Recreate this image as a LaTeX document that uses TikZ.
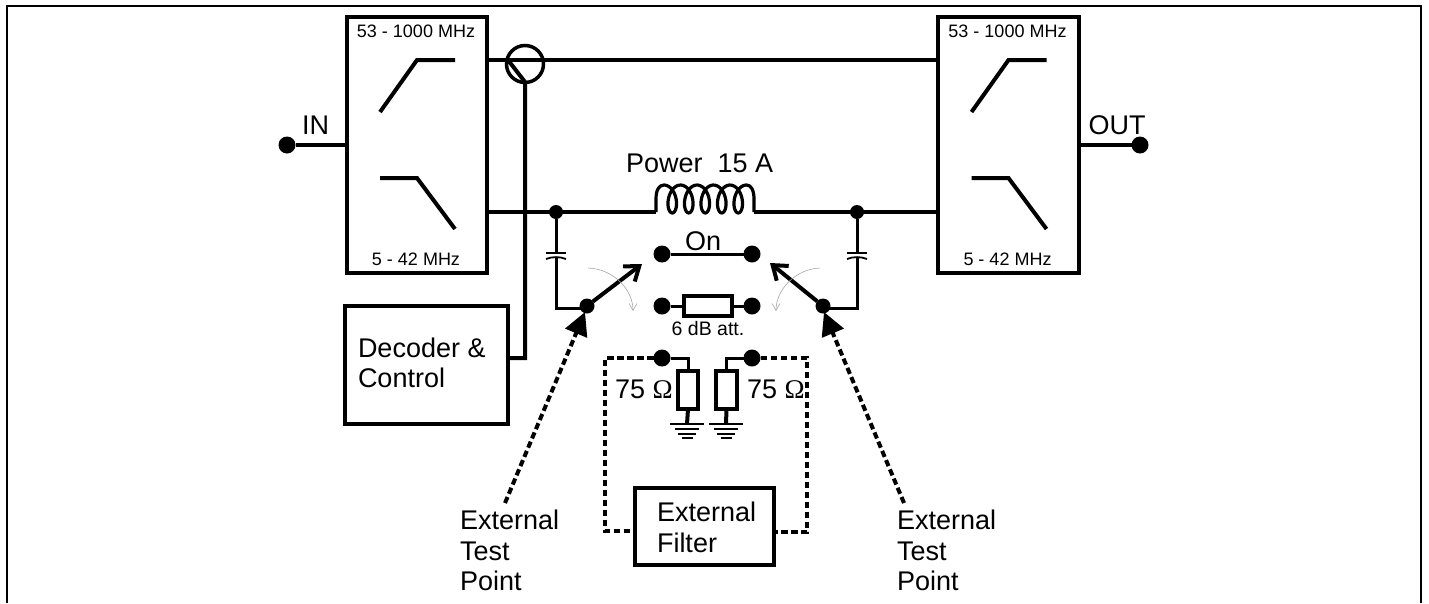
\documentclass[tikz,border=0pt]{standalone}
\usepackage{fontspec}
\setmainfont{Liberation Sans}
\newfontfamily\serifom{Liberation Serif}
\usetikzlibrary{arrows.meta}
\newcommand{\bigfont}{\fontsize{27}{30.5}\selectfont}
\newcommand{\smallfont}{\fontsize{18}{21}\selectfont}
\tikzset{
  wire/.style={line width=4pt},
  thinwire/.style={line width=3pt},
  dashwire/.style={line width=4pt,dash pattern=on 6.5pt off 3.5pt},
  blockbox/.style={draw,line width=4pt,fill=white,inner sep=0pt,outer sep=0pt},
  dot/.style={circle,fill=black,inner sep=0pt,outer sep=0pt,minimum size=17pt},
  smalldot/.style={circle,fill=black,inner sep=0pt,outer sep=0pt,minimum size=14pt},
  resbox/.style={draw,line width=3.5pt,fill=white,inner sep=0pt,outer sep=0pt},
  biglabel/.style={font=\bigfont,inner sep=0pt,outer sep=0pt,anchor=base west},
  smalllabel/.style={font=\smallfont,inner sep=0pt,outer sep=0pt,anchor=base},
  gnd/.style={line width=1.8pt},
  swarrow/.style={wire,-{Straight Barb[length=13pt,width=19pt,line width=4pt]}},
  testarrow/.style={dashwire,-{Triangle[length=23pt,width=23pt]}},
  movearrow/.style={line width=.6pt,draw=gray!70,-{Straight Barb[length=7pt,width=8pt,line width=.6pt]}},
}
\begin{document}
\begin{tikzpicture}[x=1pt,y=-1pt]
\useasboundingbox (0,0) rectangle (1429,603);
% frame
\coordinate (fbl) at (7,603);
\coordinate (ftl) at (7,6);
\coordinate (ftr) at (1421,6);
\coordinate (fbr) at (1421,603);
\draw[line width=2.2pt] (fbl) -- (ftl) -- (ftr) -- (fbr);
% filter blocks
\node[blockbox,minimum width=140pt,minimum height=256pt] (lbox) at (417,145) {};
\node[blockbox,minimum width=141pt,minimum height=256pt] (rbox) at (1008.5,145) {};
\foreach \b/\c in {l/416,r/1007.5}{
  \node[smalllabel] (\b hi) at (\c,37) {53 - 1000 MHz};
  \node[smalllabel] (\b lo) at (\c,265) {5 - 42 MHz};
}
\foreach \c in {417,1008.5}{
  \draw[wire] (\c-37,112) -- (\c,60) -- (\c+38,60);
  \draw[wire] (\c-37,178) -- (\c,178) -- (\c+38,229);
}
% IN / OUT
\node[dot] (in) at (287,145) {};
\node[dot] (out) at (1140,145) {};
\draw[wire] (in) -- (in -| lbox.west);
\draw[wire] (rbox.east |- out) -- (out);
\node[biglabel] (inl) at (302,134) {IN};
\node[biglabel] (outl) at (1088.5,134) {OUT};
% upper path
\coordinate (uleft) at (487,60);
\coordinate (uright) at (938,60);
\draw[wire] (uleft) -- (uright);
% decoder
\node[blockbox,minimum width=163pt,minimum height=118pt] (dec) at (426.5,365) {};
\node[biglabel] (dect) at (358,357) {Decoder \&};
\node[biglabel] (dect2) at (358,387) {Control};
\coordinate (cup) at (525,82);
\coordinate (cdiag) at (508,60);
\coordinate (cbend) at (525,358);
\draw[wire] (dec.east |- cbend) -- (cbend) -- (cup) -- (cdiag);
\node[draw,circle,line width=3.5pt,minimum size=37pt,inner sep=0pt,outer sep=0pt] (coupler) at (525,64) {};
% lower path and coil
\coordinate (lowl) at (487,212);
\coordinate (lowr) at (938,212);
\coordinate (coill) at (656,212);
\coordinate (coilr) at (754,212);
\node[smalldot] (jl) at (556,212) {};
\node[smalldot] (jr) at (857,212) {};
\draw[wire] (lowl) -- (coill);
\draw[wire] (coilr) -- (lowr);
\draw[line width=3.2pt,line join=round] (coill) -- (656,199) .. controls (656,190) and (659,185) .. (664,185)
  -- plot[smooth,samples=140,domain=0:1800] ({664+\x/360*16.5+8*sin(\x)},{199-14*cos(\x)})
  .. controls (751,185) and (754,190) .. (754,199) -- (coilr);
\node[biglabel] (power) at (626,172) {Power\ \ 15 A};
% capacitors and switch commons
\node[smalldot,minimum size=15pt] (swl) at (587,306) {};
\node[smalldot,minimum size=15pt] (swr) at (823,306) {};
\foreach \j/\s/\x in {jl/swl/556,jr/swr/857}{
  \draw[thinwire] (\j) -- (\x,253);
  \draw[line width=1.8pt] (\x-10,253) -- (\x+10,253);
  \draw[line width=1.8pt] (\x-10,259) .. controls (\x-4,256.5) and (\x+4,256.5) .. (\x+10,259);
  \draw[thinwire,line join=miter] (\x,257) -- (\x,308) -- ([yshift=-2pt]\s.center);
}
% switch positions
\node[dot] (onl) at (662,254) {};
\node[dot] (onr) at (752,254) {};
\draw[thinwire] (onl) -- (onr);
\node[font=\bigfont,inner sep=0pt,anchor=base] (on) at (703,250) {On};
\node[dot] (al) at (662,306) {};
\node[dot] (ar) at (752,306) {};
\node[resbox,minimum width=48pt,minimum height=20pt] (att) at (708,306) {};
\draw[thinwire] (al) -- (att);
\draw[thinwire] (att) -- (ar);
\node[font=\fontsize{19.5}{22}\selectfont,inner sep=0pt,anchor=base] (attl) at (708,335) {6 dB att.};
% switch arms
\coordinate (armlt) at (642,264);
\coordinate (armrt) at (770,263);
\draw[swarrow] (swl) -- (armlt);
\draw[swarrow] (swr) -- (armrt);
% movement arcs
\coordinate (mla) at (588,268);
\coordinate (mlb) at (633,311);
\coordinate (mra) at (820,268);
\coordinate (mrb) at (776,311);
\draw[movearrow] (mla) .. controls (614,269) and (633,290) .. (mlb);
\draw[movearrow] (mra) .. controls (795,269) and (776,290) .. (mrb);
% terminations
\node[dot] (tl) at (662,358) {};
\node[dot] (tr) at (752,358) {};
\node[resbox,minimum width=20pt,minimum height=38pt] (rl) at (688,390) {};
\node[resbox,minimum width=21pt,minimum height=38pt] (rr) at (726.5,390) {};
\coordinate (gl) at (687,424);
\coordinate (gr) at (726,424);
\draw[thinwire] (tl) -- (rl.north |- tl) -- (rl.north);
\draw[thinwire] (tr) -- (rr.north |- tr) -- (rr.north);
\draw[wire] (rl.south) -- (gl);
\draw[wire] (rr.south) -- (gr);
\foreach \g in {gl,gr}{
  \draw[gnd] ([xshift=-17pt]\g) -- ([xshift=17pt]\g);
  \draw[gnd] ([xshift=-12pt,yshift=-5pt]\g) -- ([xshift=12pt,yshift=-5pt]\g);
  \draw[gnd] ([xshift=-9pt,yshift=-10pt]\g) -- ([xshift=9pt,yshift=-10pt]\g);
  \draw[gnd] ([xshift=-5.5pt,yshift=-14pt]\g) -- ([xshift=5.5pt,yshift=-14pt]\g);
}
\node[biglabel] (r75l) at (615,398) {75 {\serifom Ω}};
\node[biglabel] (r75r) at (747,398) {75 {\serifom Ω}};
% external filter
\node[blockbox,minimum width=139pt,minimum height=77pt] (filt) at (704.5,526.5) {};
\node[biglabel] (ft1) at (657,521) {External};
\node[biglabel] (ft2) at (657,552) {Filter};
\coordinate (dl1) at (605,358);
\coordinate (dl2) at (605,531);
\coordinate (dr1) at (807,358);
\coordinate (dr2) at (807,532);
\draw[dashwire] (tl) -- (dl1) -- (dl2) -- (filt.west |- dl2);
\draw[dashwire] (tr) -- (dr1) -- (dr2) -- (filt.east |- dr2);
% external test points
\coordinate (tpl) at (505,503);
\coordinate (tpr) at (904,503);
\coordinate (tipl) at (585,312);
\coordinate (tipr) at (824,312);
\draw[testarrow] (tpl) -- (tipl);
\draw[testarrow] (tpr) -- (tipr);
\node[biglabel] (e1) at (460,529) {External};
\node[biglabel] (e2) at (460,560) {Test};
\node[biglabel] (e3) at (460,590) {Point};
\node[biglabel] (e4) at (897,529) {External};
\node[biglabel] (e5) at (897,560) {Test};
\node[biglabel] (e6) at (897,590) {Point};
\end{tikzpicture}
\end{document}
